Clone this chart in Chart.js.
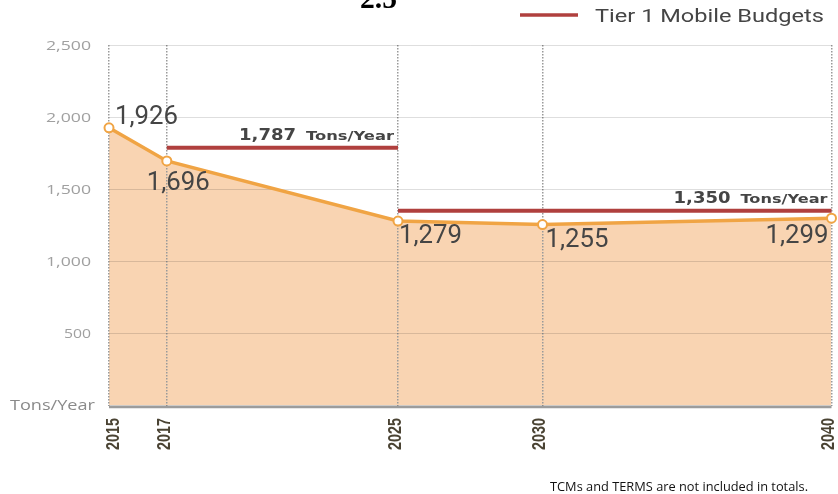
<!DOCTYPE html>
<html><head><meta charset="utf-8">
<script src="https://cdn.jsdelivr.net/npm/chart.js@4"></script>
<style>html,body{margin:0;padding:0;background:#fff}#wrap{width:838px;height:494px;position:relative}</style>
</head><body><div id="wrap"><canvas id="c" width="838" height="494"></canvas></div>
<script>
const years = [2015, 2017, 2025, 2030, 2040];
const emissions = [1926, 1696, 1279, 1255, 1299];
const emissionLabels = ['1,926', '1,696', '1,279', '1,255', '1,299'];
const budgetYears1 = [2017, 2025];
const budget1 = [1787, 1787];
const budgetYears2 = [2025, 2040];
const budget2 = [1350, 1350];
const budgetLabels = ['1,787', '1,350'];
const budgetUnit = 'Tons/Year';
const yTicks = [0, 500, 1000, 1500, 2000, 2500];
const yTickLabels = ['Tons/Year', '500', '1,000', '1,500', '2,000', '2,500'];
const titleText = '2.5';
const legendText = 'Tier 1 Mobile Budgets';
const footnote = 'TCMs and TERMS are not included in totals.';

const ORANGE = '#f0a444', FILL = '#f9d4b2', RED = '#b0403e', DARK = '#454545';

function fitText(ctx, text, x, y, width, align) {
  const w = ctx.measureText(text).width;
  const s = width / w;
  ctx.save(); ctx.translate(x, y); ctx.scale(s, 1);
  ctx.textAlign = align; ctx.fillText(text, 0, 0); ctx.restore();
}

// label placement (styling): offset from point, alignment
const labelPos = [
  {dx: 6, dy: -10, align: 'left'},
  {dx: -20, dy: 23, align: 'left'},
  {dx: 1, dy: 15, align: 'left'},
  {dx: 3, dy: 16, align: 'left'},
  {dx: -3, dy: 18, align: 'right'}
];

const textPlugin = {
  id: 'texts',
  afterDatasetsDraw(chart) {
    const ctx = chart.ctx, a = chart.chartArea;
    ctx.save();
    ctx.strokeStyle = '#9c9c9c'; ctx.lineWidth = 2.5;
    ctx.beginPath(); ctx.moveTo(a.left, a.bottom + 1.5); ctx.lineTo(a.right, a.bottom + 1.5); ctx.stroke();
    ctx.restore();
  },
  afterDraw(chart) {
    const ctx = chart.ctx, xs = chart.scales.x, ys = chart.scales.y;
    ctx.save();
    // title (cut off at top)
    ctx.fillStyle = '#000';
    ctx.font = 'bold 30px "Liberation Serif"';
    ctx.textBaseline = 'alphabetic';
    fitText(ctx, titleText, 360, 8, 37, 'left');
    // legend
    ctx.strokeStyle = RED; ctx.lineWidth = 3.5;
    ctx.beginPath(); ctx.moveTo(520, 15); ctx.lineTo(578, 15); ctx.stroke();
    ctx.fillStyle = DARK; ctx.font = '19px Roboto';
    fitText(ctx, legendText, 595, 22, 229, 'left');
    // y tick labels
    ctx.textBaseline = 'middle';
    ys.ticks.forEach(t => {
      const idx = yTicks.indexOf(t.value);
      if (idx < 0) return;
      const y = ys.getPixelForValue(t.value);
      if (t.value === 0) {
        ctx.fillStyle = '#8a8a8a'; ctx.font = '14px "Open Sans"';
        fitText(ctx, yTickLabels[idx], 95, y + 1, 85, 'right');
      } else {
        ctx.fillStyle = '#a0a0a0'; ctx.font = '13px "Open Sans"';
        const lbl = yTickLabels[idx];
        const target = lbl.length === 5 ? 45 : 27;
        fitText(ctx, lbl, 91, y + 1, target, 'right');
      }
    });
    // x tick labels, rotated
    ctx.fillStyle = '#4a4333'; ctx.font = 'bold 18px "Liberation Sans"';
    years.forEach(v => {
      let cx = xs.getPixelForValue(v) - 2;
      cx = Math.max(114.5, Math.min(829, cx));
      ctx.save(); ctx.translate(cx, 418); ctx.rotate(-Math.PI / 2);
      const w = ctx.measureText(String(v)).width;
      ctx.scale(32 / w, 1);
      ctx.textAlign = 'right'; ctx.textBaseline = 'middle';
      ctx.fillText(String(v), 0, 0);
      ctx.restore();
    });
    // data labels
    const meta = chart.getDatasetMeta(0);
    ctx.fillStyle = DARK; ctx.font = '26px Roboto'; ctx.textBaseline = 'middle';
    meta.data.forEach((pt, i) => {
      const p = labelPos[i];
      const w = ctx.measureText(emissionLabels[i]).width;
      fitText(ctx, emissionLabels[i], pt.x + p.dx, pt.y + p.dy, Math.min(w, 63), p.align);
    });
    // budget annotations
    [[1, 57, 88], [2, 57, 87]].forEach(([di, wNum, wUnit], k) => {
      const m = chart.getDatasetMeta(di);
      const end = m.data[m.data.length - 1];
      const rx = end.x - 4, by = end.y - 7.5;
      ctx.textBaseline = 'alphabetic';
      ctx.fillStyle = DARK;
      ctx.font = 'bold 13px "DejaVu Sans"';
      fitText(ctx, budgetUnit, rx, by, wUnit, 'right');
      ctx.font = 'bold 16px "DejaVu Sans"';
      fitText(ctx, budgetLabels[k], rx - wUnit - 10, by, wNum, 'right');
    });
    // footnote
    ctx.fillStyle = '#111'; ctx.font = '13px "Open Sans"'; ctx.textBaseline = 'alphabetic';
    fitText(ctx, footnote, 550, 491, 258, 'left');
    ctx.restore();
  }
};

new Chart(document.getElementById('c'), {
  type: 'line',
  data: {
    datasets: [
      {
        data: years.map((y, i) => ({x: y, y: emissions[i]})),
        borderColor: ORANGE, borderWidth: 3.5, backgroundColor: FILL,
        fill: 'origin', tension: 0,
        pointRadius: 4.5, pointBorderWidth: 2, pointBackgroundColor: '#fff', pointBorderColor: ORANGE,
        clip: false, order: 2
      },
      {
        data: budgetYears1.map((y, i) => ({x: y, y: budget1[i]})),
        borderColor: RED, borderWidth: 4, pointRadius: 0, fill: false, order: 1
      },
      {
        data: budgetYears2.map((y, i) => ({x: y, y: budget2[i]})),
        borderColor: RED, borderWidth: 4, pointRadius: 0, fill: false, order: 1, clip: false
      }
    ]
  },
  options: {
    responsive: false, animation: false,
    layout: {padding: {left: 109, right: 3, top: 45, bottom: 88.5}},
    plugins: {legend: {display: false}, tooltip: {enabled: false}, filler: {drawTime: 'beforeDraw'}},
    scales: {
      x: {
        type: 'linear', min: 2015, max: 2040,
        afterBuildTicks: s => { s.ticks = years.map(v => ({value: v})); },
        afterFit: s => { s.height = 0; },
        ticks: {display: false},
        grid: {color: '#9a9a9a', lineWidth: 1.5, drawTicks: false},
        border: {display: false, dash: [1.5, 1.5]}
      },
      y: {
        min: 0, max: 2500,
        afterBuildTicks: s => { s.ticks = yTicks.map(v => ({value: v})); },
        afterFit: s => { s.width = 0; },
        ticks: {display: false},
        grid: {color: 'rgba(0,0,0,0.13)', lineWidth: 1, drawTicks: false},
        border: {display: false}
      }
    }
  },
  plugins: [textPlugin]
});
</script></body></html>
